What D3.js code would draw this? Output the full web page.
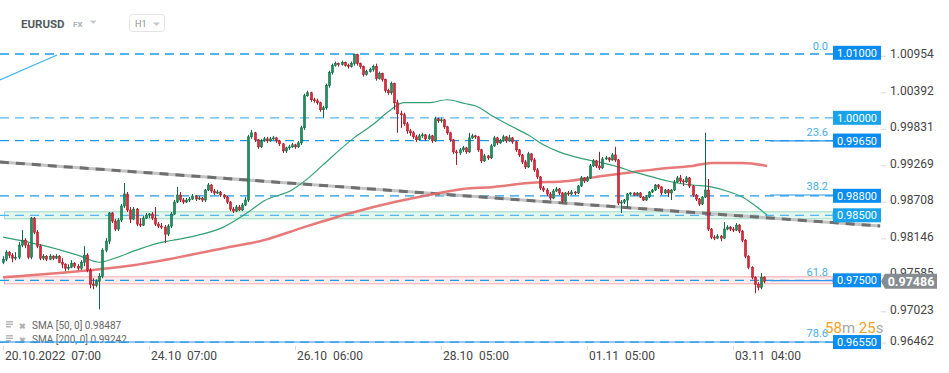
<!DOCTYPE html>
<html>
<head>
<meta charset="utf-8">
<script src="https://cdn.jsdelivr.net/npm/d3@7"></script>
<style>
  body { margin: 0; background: #fff; font-family: Roboto, "Noto Sans", sans-serif; }
</style>
</head>
<body>
<div id="chart"></div>
<script>
// Hourly candles, [open, high, low, close]
const candles = [
  [0.97778,0.97871,0.97748,0.97825],[0.97825,0.97964,0.97794,0.97933],[0.97933,0.97948,0.97840,0.97886],[0.97886,0.97917,0.97778,0.97840],
  [0.97840,0.97933,0.97809,0.97856],[0.97856,0.98087,0.97825,0.98041],[0.98041,0.98272,0.98010,0.98118],[0.98118,0.98149,0.97994,0.98041],
  [0.98041,0.98072,0.97825,0.97856],[0.97856,0.98473,0.97825,0.98457],[0.98457,0.98473,0.98210,0.98241],[0.98241,0.98272,0.97994,0.98025],
  [0.98025,0.98056,0.97809,0.97840],[0.97840,0.97902,0.97809,0.97871],[0.97871,0.97886,0.97794,0.97825],[0.97825,0.97902,0.97809,0.97871],
  [0.97871,0.97886,0.97809,0.97840],[0.97840,0.97902,0.97825,0.97871],[0.97871,0.97886,0.97763,0.97778],[0.97778,0.97840,0.97686,0.97748],
  [0.97748,0.97763,0.97640,0.97686],[0.97686,0.97748,0.97655,0.97701],[0.97701,0.97809,0.97686,0.97763],[0.97763,0.97778,0.97686,0.97717],
  [0.97717,0.97748,0.97655,0.97686],[0.97686,0.97809,0.97655,0.97778],[0.97778,0.98025,0.97717,0.97886],[0.97886,0.97917,0.97624,0.97655],
  [0.97655,0.97686,0.97377,0.97439],[0.97439,0.97532,0.97362,0.97423],[0.97423,0.97516,0.97393,0.97485],[0.97485,0.97609,0.97053,0.97562],
  [0.97562,0.97994,0.97532,0.97964],[0.97964,0.98149,0.97933,0.98102],[0.98102,0.98550,0.98056,0.98535],[0.98535,0.98550,0.98380,0.98411],
  [0.98411,0.98442,0.98257,0.98288],[0.98288,0.98457,0.98257,0.98426],[0.98426,0.98673,0.98396,0.98643],[0.98643,0.98997,0.98612,0.98828],
  [0.98828,0.98858,0.98550,0.98581],[0.98581,0.98627,0.98380,0.98442],[0.98442,0.98627,0.98426,0.98596],[0.98596,0.98612,0.98334,0.98365],
  [0.98365,0.98457,0.98318,0.98349],[0.98349,0.98488,0.98334,0.98457],[0.98457,0.98535,0.98442,0.98504],[0.98504,0.98535,0.98457,0.98519],
  [0.98519,0.98550,0.98426,0.98457],[0.98457,0.98627,0.98334,0.98365],[0.98365,0.98396,0.98303,0.98334],[0.98334,0.98380,0.98288,0.98318],
  [0.98318,0.98349,0.98072,0.98210],[0.98210,0.98365,0.98180,0.98334],[0.98334,0.98550,0.98303,0.98519],[0.98519,0.98735,0.98504,0.98704],
  [0.98704,0.98936,0.98689,0.98812],[0.98812,0.98858,0.98704,0.98735],[0.98735,0.98766,0.98673,0.98704],[0.98704,0.98766,0.98689,0.98735],
  [0.98735,0.98781,0.98704,0.98750],[0.98750,0.98828,0.98735,0.98797],[0.98797,0.98812,0.98720,0.98750],[0.98750,0.98797,0.98735,0.98766],
  [0.98766,0.98781,0.98704,0.98735],[0.98735,0.98905,0.98704,0.98889],[0.98889,0.98997,0.98874,0.98966],[0.98966,0.98982,0.98843,0.98874],
  [0.98874,0.98905,0.98812,0.98843],[0.98843,0.98889,0.98828,0.98858],[0.98858,0.98874,0.98781,0.98812],[0.98812,0.98828,0.98750,0.98781],
  [0.98781,0.98797,0.98673,0.98704],[0.98704,0.98720,0.98565,0.98596],[0.98596,0.98627,0.98535,0.98565],[0.98565,0.98658,0.98550,0.98627],
  [0.98627,0.98658,0.98565,0.98581],[0.98581,0.98689,0.98565,0.98658],[0.98658,0.98781,0.98643,0.98735],[0.98735,0.99738,0.98704,0.99707],
  [0.99707,0.99815,0.99676,0.99769],[0.99769,0.99784,0.99630,0.99661],[0.99661,0.99676,0.99522,0.99553],[0.99553,0.99676,0.99537,0.99645],
  [0.99645,0.99707,0.99630,0.99676],[0.99676,0.99707,0.99614,0.99645],[0.99645,0.99707,0.99630,0.99676],[0.99676,0.99722,0.99661,0.99691],
  [0.99691,0.99707,0.99614,0.99645],[0.99645,0.99661,0.99568,0.99599],[0.99599,0.99614,0.99460,0.99491],[0.99491,0.99553,0.99460,0.99537],
  [0.99537,0.99584,0.99507,0.99553],[0.99553,0.99614,0.99537,0.99584],[0.99584,0.99599,0.99522,0.99553],[0.99553,0.99645,0.99537,0.99614],
  [0.99614,0.99877,0.99584,0.99846],[0.99846,1.00371,0.99815,1.00340],[1.00340,1.00417,1.00324,1.00386],[1.00386,1.00401,1.00247,1.00278],
  [1.00278,1.00309,1.00232,1.00263],[1.00263,1.00293,1.00201,1.00232],[1.00232,1.00247,1.00093,1.00124],[1.00124,1.00186,1.00000,1.00155],
  [1.00155,1.00525,1.00124,1.00494],[1.00494,1.00726,1.00463,1.00695],[1.00695,1.00833,1.00664,1.00803],[1.00803,1.00864,1.00787,1.00833],
  [1.00833,1.00849,1.00787,1.00818],[1.00818,1.00880,1.00803,1.00849],[1.00849,1.00864,1.00787,1.00803],[1.00803,1.00833,1.00756,1.00787],
  [1.00787,1.00864,1.00772,1.00833],[1.00833,1.00987,1.00803,1.00972],[1.00972,1.00987,1.00803,1.00833],[1.00833,1.00849,1.00756,1.00787],
  [1.00787,1.00803,1.00633,1.00664],[1.00664,1.00741,1.00649,1.00710],[1.00710,1.00772,1.00695,1.00741],[1.00741,1.00818,1.00710,1.00787],
  [1.00787,1.00833,1.00571,1.00602],[1.00602,1.00710,1.00587,1.00679],[1.00679,1.00695,1.00556,1.00587],[1.00587,1.00602,1.00386,1.00417],
  [1.00417,1.00448,1.00355,1.00386],[1.00386,1.00556,1.00355,1.00525],[1.00525,1.00540,1.00124,1.00232],[1.00232,1.00278,0.99769,1.00062],
  [1.00062,1.00108,0.99846,1.00047],[1.00047,1.00078,0.99877,0.99907],[0.99907,0.99938,0.99753,0.99799],[0.99799,0.99830,0.99722,0.99769],
  [0.99769,0.99799,0.99676,0.99707],[0.99707,0.99738,0.99630,0.99661],[0.99661,0.99753,0.99645,0.99722],[0.99722,0.99769,0.99691,0.99738],
  [0.99738,0.99753,0.99645,0.99676],[0.99676,0.99753,0.99661,0.99722],[0.99722,0.99738,0.99614,0.99645],[0.99645,1.00016,0.99630,0.99985],
  [0.99985,1.00000,0.99923,0.99954],[0.99954,1.00000,0.99923,0.99969],[0.99969,0.99985,0.99830,0.99861],[0.99861,0.99877,0.99738,0.99769],
  [0.99769,0.99784,0.99630,0.99661],[0.99661,0.99676,0.99445,0.99476],[0.99476,0.99507,0.99275,0.99460],[0.99460,0.99537,0.99429,0.99507],
  [0.99507,0.99568,0.99476,0.99537],[0.99537,0.99553,0.99445,0.99476],[0.99476,0.99769,0.99460,0.99691],[0.99691,0.99753,0.99676,0.99722],
  [0.99722,0.99738,0.99676,0.99707],[0.99707,0.99722,0.99476,0.99507],[0.99507,0.99522,0.99306,0.99337],[0.99337,0.99445,0.99321,0.99414],
  [0.99414,0.99429,0.99352,0.99383],[0.99383,0.99599,0.99367,0.99568],[0.99568,0.99722,0.99553,0.99691],[0.99691,0.99707,0.99584,0.99614],
  [0.99614,0.99676,0.99599,0.99645],[0.99645,0.99738,0.99630,0.99707],[0.99707,0.99722,0.99614,0.99645],[0.99645,0.99738,0.99630,0.99691],
  [0.99691,0.99707,0.99599,0.99630],[0.99630,0.99645,0.99476,0.99507],[0.99507,0.99522,0.99398,0.99429],[0.99429,0.99445,0.99290,0.99321],
  [0.99321,0.99352,0.99213,0.99244],[0.99244,0.99476,0.99229,0.99445],[0.99445,0.99460,0.99321,0.99352],[0.99352,0.99383,0.99167,0.99198],
  [0.99198,0.99229,0.99059,0.99090],[0.99090,0.99105,0.98889,0.98920],[0.98920,0.98951,0.98858,0.98889],[0.98889,0.98920,0.98797,0.98828],
  [0.98828,0.98858,0.98735,0.98766],[0.98766,0.98905,0.98750,0.98874],[0.98874,0.98936,0.98858,0.98905],[0.98905,0.98920,0.98812,0.98843],
  [0.98843,0.98858,0.98689,0.98720],[0.98720,0.98858,0.98704,0.98843],[0.98843,0.98874,0.98797,0.98828],[0.98828,0.98889,0.98812,0.98858],
  [0.98858,0.98874,0.98812,0.98843],[0.98843,0.98966,0.98828,0.98951],[0.98951,0.99105,0.98936,0.99075],[0.99075,0.99090,0.98997,0.99028],
  [0.99028,0.99105,0.99013,0.99075],[0.99075,0.99290,0.99059,0.99260],[0.99260,0.99367,0.99244,0.99337],[0.99337,0.99352,0.99229,0.99260],
  [0.99260,0.99476,0.99198,0.99229],[0.99229,0.99398,0.99213,0.99367],[0.99367,0.99414,0.99352,0.99383],[0.99383,0.99398,0.99321,0.99352],
  [0.99352,0.99460,0.99337,0.99429],[0.99429,0.99553,0.99321,0.99352],[0.99352,0.99367,0.98658,0.98689],[0.98689,0.98735,0.98535,0.98704],
  [0.98704,0.98750,0.98673,0.98735],[0.98735,0.98843,0.98612,0.98828],[0.98828,0.98858,0.98812,0.98843],[0.98843,0.98858,0.98797,0.98812],
  [0.98812,0.98858,0.98797,0.98843],[0.98843,0.98858,0.98766,0.98781],[0.98781,0.98797,0.98720,0.98735],[0.98735,0.98812,0.98720,0.98781],
  [0.98781,0.98874,0.98766,0.98858],[0.98858,0.98905,0.98843,0.98889],[0.98889,0.98982,0.98874,0.98966],[0.98966,0.98982,0.98905,0.98936],
  [0.98936,0.98951,0.98812,0.98843],[0.98843,0.98905,0.98828,0.98889],[0.98889,0.98905,0.98781,0.98843],[0.98843,0.98905,0.98735,0.98889],
  [0.98889,0.99044,0.98874,0.99013],[0.99013,0.99105,0.98997,0.99075],[0.99075,0.99121,0.98997,0.99028],[0.99028,0.99059,0.98951,0.99013],
  [0.99013,0.99105,0.98997,0.99075],[0.99075,0.99090,0.98920,0.98951],[0.98951,0.98966,0.98781,0.98812],[0.98812,0.98828,0.98720,0.98750],
  [0.98750,0.98766,0.98643,0.98673],[0.98673,0.98797,0.98658,0.98781],[0.98781,0.99769,0.98766,0.98889],[0.98889,0.99059,0.98257,0.98288],
  [0.98288,0.98303,0.98133,0.98164],[0.98164,0.98195,0.98118,0.98149],[0.98149,0.98210,0.98133,0.98180],[0.98180,0.98195,0.98102,0.98149],
  [0.98149,0.98396,0.98133,0.98288],[0.98288,0.98349,0.98272,0.98318],[0.98318,0.98334,0.98257,0.98288],[0.98288,0.98318,0.98241,0.98272],
  [0.98272,0.98380,0.98257,0.98349],[0.98349,0.98365,0.98226,0.98257],[0.98257,0.98272,0.98087,0.98118],[0.98118,0.98133,0.97840,0.97871],
  [0.97871,0.97886,0.97670,0.97701],[0.97701,0.97717,0.97516,0.97547],[0.97547,0.97562,0.97300,0.97439],[0.97439,0.97470,0.97346,0.97393],
  [0.97393,0.97609,0.97362,0.97547],[0.97547,0.97562,0.97454,0.97486]
];

// Time axis: bar index of each tick and its label
const xTickIndex = [0, 47, 94, 141, 188, 235];
const xTickLabels = ["20.10.2022  07:00", "24.10  07:00", "26.10  06:00", "28.10  05:00", "01.11  05:00", "03.11  04:00"];

// Price axis ticks
const yTickValues = [1.00954, 1.00392, 0.99831, 0.99269, 0.98708, 0.98146, 0.97585, 0.97023, 0.96462];

// Horizontal levels drawn on the chart
const levelPrices = [1.01, 1.00, 0.9965, 0.988, 0.985, 0.975, 0.9655];
const levelLabels = ["1.01000", "1.00000", "0.99650", "0.98800", "0.98500", "0.97500", "0.96550"];

// Fibonacci retracement
const fibPrices = [1.00966, 0.99646, 0.98812, 0.97495, 0.96551];
const fibLabels = ["0.0", "23.6", "38.2", "61.8", "78.6"];
const fibStartIndex = 247;
const fibTrend = [[-1, 1.00582], [17.4, 1.00966]];

// Trend line [bar index, price]
const trendLine = [[-1, 0.99320], [282.4, 0.98335]];

// Moving averages, [bar index, price]
const sma50 = [[0,0.98164],[5,0.98118],[15,0.98010],[25,0.97871],[31,0.97778],[36,0.97840],[42,0.97948],[50,0.98072],
  [60,0.98164],[71,0.98318],[79,0.98550],[84,0.98720],[93,0.98889],[98,0.99060],[103,0.99275],[113,0.99691],[119,0.99892],
  [124,1.00093],[129,1.00232],[137,1.00232],[143,1.00278],[149,1.00216],[152,1.00186],[158,1.00016],[164,0.99861],
  [169,0.99738],[174,0.99584],[179,0.99476],[187,0.99367],[193,0.99306],[198,0.99244],[203,0.99167],[209,0.99090],
  [214,0.99028],[217,0.98997],[222,0.98966],[228,0.98936],[233,0.98874],[238,0.98781],[241,0.98689],[246,0.98504]];
const sma200 = [[0,0.97547],[31,0.97670],[42,0.97732],[71,0.97994],[84,0.98118],[96,0.98303],[112,0.98535],[126,0.98704],
  [137,0.98812],[148,0.98905],[158,0.98936],[169,0.98997],[182,0.99028],[193,0.99105],[203,0.99167],[214,0.99229],
  [222,0.99260],[228,0.99306],[238,0.99306],[246,0.99260]];

const legendItems = ["SMA [50, 0] 0.98487", "SMA [200, 0] 0.99242"];
const lastPrice = 0.97486;
const countdown = [["58", "num"], ["m", "unit"], [" 25", "num"], ["s", "unit"]];

const width = 949, height = 373;
const plotRight = 833;

const svg = d3.select("#chart")
  .append("svg")
    .attr("width", width)
    .attr("height", height)
    .style("font-family", "Roboto, 'Noto Sans', sans-serif");

// Scales
const x = d3.scaleLinear().domain([0, 245]).range([3, 764]);
const y = d3.scaleLinear().domain([0.975, 1.0]).range([280.3, 117.8]);

// Header
svg.append("text").attr("x", 21).attr("y", 27.5)
  .attr("font-size", 11.5).attr("font-weight", 700).attr("fill", "#53585e").text("EURUSD");
svg.append("text").attr("x", 73).attr("y", 27)
  .attr("font-size", 8).attr("font-weight", 700).attr("fill", "#aab0b6").text("FX");
svg.append("path").attr("d", "M90,20.5 L96.5,20.5 L93.25,24 Z").attr("fill", "#c4c8cc");
svg.append("rect").attr("x", 129.5).attr("y", 14.5).attr("width", 35).attr("height", 17).attr("rx", 3)
  .attr("fill", "#fff").attr("stroke", "#e2e4e6");
svg.append("text").attr("x", 135).attr("y", 27)
  .attr("font-size", 9).attr("fill", "#8a8f94").text("H1");
svg.append("path").attr("d", "M153,22.5 L160,22.5 L156.5,26 Z").attr("fill", "#c4c8cc");

// Legend (drawn first, the bottom level line crosses it)
const legend = svg.append("g");
legendItems.forEach((t, i) => {
  const ly = 329 + i * 14;
  legend.append("rect").attr("x", 6).attr("y", ly - 8).attr("width", 7).attr("height", 1.5).attr("fill", "#b8b8b8");
  legend.append("rect").attr("x", 6).attr("y", ly - 5.5).attr("width", 7).attr("height", 1.5).attr("fill", "#b8b8b8");
  legend.append("rect").attr("x", 6).attr("y", ly - 3).attr("width", 5).attr("height", 1.5).attr("fill", "#b8b8b8");
  legend.append("text").attr("x", 19).attr("y", ly).attr("font-size", 8).attr("font-weight", 700)
    .attr("fill", "#b0b0b0").text("\u2716");
  legend.append("text").attr("x", 32).attr("y", ly).attr("font-size", 10).attr("fill", "#666").text(t);
});

// Support / resistance bands
const bands = [{ price: 0.985, fill: "#e3f6ef", stroke: "#9edcc2" }, { price: 0.975, fill: "#fcebec", stroke: "#f2aeb3" }];
svg.append("g").selectAll("rect")
  .data(bands)
  .enter().append("rect")
    .attr("x", 4.5)
    .attr("y", d => y(d.price) - 3.5)
    .attr("width", plotRight - 5)
    .attr("height", 7)
    .attr("fill", d => d.fill)
    .attr("stroke", d => d.stroke);

// Dashed horizontal levels (the top one is covered by the fib 0.0 line)
const lightLevels = new Set([1.00, 0.985]);
svg.append("g").selectAll("line")
  .data(levelPrices.slice(1))
  .enter().append("line")
    .attr("x1", 0).attr("x2", plotRight)
    .attr("y1", d => y(d)).attr("y2", d => y(d))
    .attr("stroke", d => lightLevels.has(d) ? "#54b6ee" : "#1d9ae6")
    .attr("stroke-width", 1.3)
    .attr("stroke-dasharray", "9,6");

// Fibonacci lines
const fib = svg.append("g");
fibPrices.forEach((p, i) => {
  if (i === 0) {
    fib.append("line").attr("x1", 0).attr("x2", plotRight).attr("y1", y(p) - 1).attr("y2", y(p) - 1)
      .attr("stroke", "#1d9ae6").attr("stroke-width", 1.5).attr("stroke-dasharray", "9,6");
  } else {
    fib.append("line")
      .attr("x1", i === fibPrices.length - 1 ? 0 : x(fibStartIndex)).attr("x2", plotRight)
      .attr("y1", y(p)).attr("y2", y(p))
      .attr("stroke", "#2a96f0").attr("stroke-width", 1.2);
  }
  fib.append("text").attr("x", 828).attr("y", y(p) - 5)
    .attr("text-anchor", "end").attr("font-size", 11).attr("fill", "#45aeea").text(fibLabels[i]);
});
fib.append("path")
  .attr("d", d3.line().x(d => x(d[0])).y(d => y(d[1]))(fibTrend))
  .attr("fill", "none").attr("stroke", "#3ab4f2").attr("stroke-width", 1.2);

// Trend line
const trendPath = d3.line().x(d => x(d[0])).y(d => y(d[1]))(trendLine);
svg.append("path").attr("d", trendPath).attr("fill", "none")
  .attr("stroke", "#c4c4c4").attr("stroke-width", 3);
svg.append("path").attr("d", trendPath).attr("fill", "none")
  .attr("stroke", "#6f6f6f").attr("stroke-width", 3).attr("stroke-dasharray", "9,7");

// Moving averages
const smaLine = d3.line().x(d => x(d[0])).y(d => y(d[1])).curve(d3.curveMonotoneX);
svg.append("path").attr("d", smaLine(sma200)).attr("fill", "none")
  .attr("stroke", "#e46a6a").attr("stroke-width", 2.5).attr("opacity", 0.9);
svg.append("path").attr("d", smaLine(sma50)).attr("fill", "none")
  .attr("stroke", "#33a074").attr("stroke-width", 1.2);

// Candles
const up = d => d[3] > d[0];
const candle = svg.append("g").selectAll("g")
  .data(candles)
  .enter().append("g");

candle.append("line")
  .attr("x1", (d, i) => Math.round(x(i)) + 0.5)
  .attr("x2", (d, i) => Math.round(x(i)) + 0.5)
  .attr("y1", d => y(d[1]))
  .attr("y2", d => y(d[2]))
  .attr("stroke", d => up(d) ? "#0f6b43" : "#a91b29")
  .attr("stroke-width", 1);

candle.append("rect")
  .attr("x", (d, i) => Math.round(x(i)) - 0.5)
  .attr("y", d => y(Math.max(d[0], d[3])))
  .attr("width", 2)
  .attr("height", d => Math.max(1, Math.abs(y(d[0]) - y(d[3]))))
  .attr("fill", d => up(d) ? "#1f9160" : "#e2283a")
  .attr("stroke", d => up(d) ? "#0f6b43" : "#a91b29")
  .attr("stroke-width", 0.6);

// Price axis
const yAxis = svg.append("g")
  .attr("transform", "translate(881,0)")
  .call(d3.axisRight(y).tickValues(yTickValues).tickSize(5).tickPadding(4).tickFormat(d3.format(".5f")));
yAxis.select(".domain").remove();
yAxis.selectAll(".tick line").attr("stroke", "#d8d8d8");
yAxis.selectAll(".tick text")
  .attr("font-size", 12).attr("font-family", "Roboto, sans-serif").attr("fill", "#444").attr("dy", "0.15em");
yAxis.selectAll(".tick").filter(d => y(d) > 343).attr("transform", "translate(0,343)");

// Level label boxes
const boxes = svg.append("g").selectAll("g")
  .data(levelPrices)
  .enter().append("g")
    .attr("transform", d => `translate(${plotRight},${y(d)})`);
boxes.append("rect")
  .attr("x", 0).attr("y", -7).attr("width", 48).attr("height", 14)
  .attr("fill", d => lightLevels.has(d) ? "#18a3ea" : "#0a8cf0");
boxes.append("text")
  .attr("x", 24).attr("y", 4).attr("text-anchor", "middle")
  .attr("font-size", 11).attr("fill", "#fff")
  .text((d, i) => levelLabels[i]);

// Last price tag
const ty = y(lastPrice);
svg.append("path")
  .attr("d", `M881,${ty} L885,${ty - 7.5} L937,${ty - 7.5} L937,${ty + 7.5} L885,${ty + 7.5} Z`)
  .attr("fill", "#878c91");
svg.append("text").attr("x", 911).attr("y", ty + 4.5).attr("text-anchor", "middle")
  .attr("font-size", 12.5).attr("font-weight", 700).attr("fill", "#fff").text(d3.format(".5f")(lastPrice));

// Countdown to the bar close
const cd = svg.append("text").attr("x", 825).attr("y", 333).attr("font-size", 15);
cd.selectAll("tspan")
  .data(countdown)
  .enter().append("tspan")
    .attr("fill", d => d[1] === "num" ? "#f4a020" : "#a6a6a6")
    .style("white-space", "pre")
    .text(d => d[0]);

// Time axis
const xAxis = svg.append("g")
  .attr("transform", "translate(0,346)")
  .call(d3.axisBottom(x).tickValues(xTickIndex).tickSize(4).tickFormat((d, i) => xTickLabels[i]));
xAxis.select(".domain").remove();
xAxis.selectAll(".tick line").attr("stroke", "#d8d8d8");
xAxis.selectAll(".tick text")
  .attr("text-anchor", "start")
  .attr("x", 1.5)
  .attr("y", 5.5)
  .attr("font-size", 12)
  .attr("font-family", "Roboto, sans-serif")
  .attr("fill", "#444")
  .style("white-space", "pre");
</script>
</body>
</html>
